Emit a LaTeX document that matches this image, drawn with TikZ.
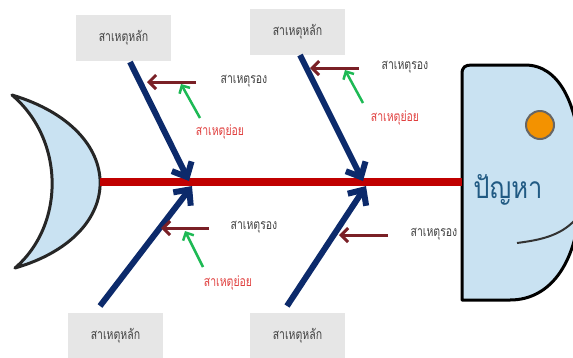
\documentclass[tikz,border=0pt]{standalone}
\usepackage{fontspec}
\newfontfamily\thaifont[Script=Thai, FakeStretch=0.75]{Loma}
\newfontfamily\thaibig[Script=Thai, FakeStretch=0.85]{Loma}
\usetikzlibrary{arrows.meta}
\definecolor{boxgray}{HTML}{E6E6E6}
\definecolor{txtgray}{HTML}{404040}
\definecolor{spinered}{HTML}{C00000}
\definecolor{bonenavy}{HTML}{0C2A6B}
\definecolor{subred}{HTML}{7A2026}
\definecolor{subgreen}{HTML}{1DB954}
\definecolor{minorred}{HTML}{E0403F}
\definecolor{fishblue}{HTML}{C9E2F2}
\definecolor{eyeorange}{HTML}{F39200}
\definecolor{probblue}{HTML}{215A83}
\tikzset{
  causebox/.style={fill=boxgray, minimum width=95pt, minimum height=46pt, inner sep=0pt, font=\thaifont\fontsize{14}{16}\selectfont, text=txtgray},
  sublabel/.style={font=\thaifont\fontsize{14}{16}\selectfont, text=txtgray, inner sep=0pt},
  minorlabel/.style={font=\thaifont\fontsize{14}{16}\selectfont, text=minorred, inner sep=0pt},
  bone/.style={draw=bonenavy, line width=6pt, -{Straight Barb[length=12pt,width=22pt,line width=6pt]}},
  subarrow/.style={draw=subred, line width=3pt, -{Straight Barb[length=7pt,width=14pt,line width=3pt]}},
  minorarrow/.style={draw=subgreen, line width=2.5pt, -{Straight Barb[length=6pt,width=12pt,line width=2.5pt]}},
}
\begin{document}
\begin{tikzpicture}[x=1pt,y=-1pt]
\useasboundingbox (0,0) rectangle (573,357);
% tail
\path[draw=black!85, line width=3pt, fill=fishblue, line join=round]
  (12,95) .. controls (129,130) and (129,235) .. (15,268)
  .. controls (65,225) and (65,140) .. (12,95) -- cycle;
% head
\path[draw=black, line width=3pt, fill=fishblue, line join=round]
  (462,300) -- (462,74) .. controls (462,67) and (465,65) .. (472,65)
  -- (525,65) .. controls (560,65) and (576,105) .. (580,150)
  -- (580,200) .. controls (578,260) and (552,300) .. (510,300) -- cycle;
\node[draw=black!60, line width=2pt, fill=eyeorange, circle, minimum size=28pt, inner sep=0pt] (eye) at (540,125) {};
\draw[draw=black!80, line width=2pt] (517,243) .. controls (540,240) and (560,236) .. (575,220) coordinate (mouthend);
\node[font=\thaibig\fontsize{30}{34}\selectfont, text=probblue, inner sep=0pt] (problem) at (508,190) {ปัญหา};
% spine
\coordinate (spL) at (100,182);
\coordinate (spR) at (462,182);
\draw[spinered, line width=8pt] (spL) -- (spR);
% boxes
\node[causebox] (c1) at (123.5,38) {สาเหตุหลัก};
\node[causebox] (c2) at (297.5,31.5) {สาเหตุหลัก};
\node[causebox] (c3) at (115.5,336) {สาเหตุหลัก};
\node[causebox] (c4) at (297.5,336) {สาเหตุหลัก};
% bones
\coordinate (b1s) at (130,62);
\coordinate (b1e) at (189,181);
\coordinate (b2s) at (300,55);
\coordinate (b2e) at (363,181);
\coordinate (b3s) at (100,306);
\coordinate (b3e) at (192,186);
\coordinate (b4s) at (287,306);
\coordinate (b4e) at (366,186);
\draw[bone] (b1s) -- (b1e);
\draw[bone] (b2s) -- (b2e);
\draw[bone] (b3s) -- (b3e);
\draw[bone] (b4s) -- (b4e);
% sub causes
\coordinate (s1s) at (196,82);  \coordinate (s1e) at (147,82);
\coordinate (s2s) at (359,68);  \coordinate (s2e) at (310,68);
\coordinate (s3s) at (209,228); \coordinate (s3e) at (161,228);
\coordinate (s4s) at (388,235); \coordinate (s4e) at (339,235);
\draw[subarrow] (s1s) -- (s1e);
\draw[subarrow] (s2s) -- (s2e);
\draw[subarrow] (s3s) -- (s3e);
\draw[subarrow] (s4s) -- (s4e);
\node[sublabel] (l1) at (244,81) {สาเหตุรอง};
\node[sublabel] (l2) at (405,67) {สาเหตุรอง};
\node[sublabel] (l3) at (254,227) {สาเหตุรอง};
\node[sublabel] (l4) at (434,234) {สาเหตุรอง};
% minor causes
\coordinate (m1s) at (200,118); \coordinate (m1e) at (181,84);
\coordinate (m2s) at (363,103); \coordinate (m2e) at (345,70);
\coordinate (m3s) at (203,267); \coordinate (m3e) at (185,231);
\draw[minorarrow] (m1s) -- (m1e);
\draw[minorarrow] (m2s) -- (m2e);
\draw[minorarrow] (m3s) -- (m3e);
\node[minorlabel] (n1) at (220,132) {สาเหตุย่อย};
\node[minorlabel] (n2) at (395,118) {สาเหตุย่อย};
\node[minorlabel] (n3) at (228,283) {สาเหตุย่อย};
\end{tikzpicture}
\end{document}
